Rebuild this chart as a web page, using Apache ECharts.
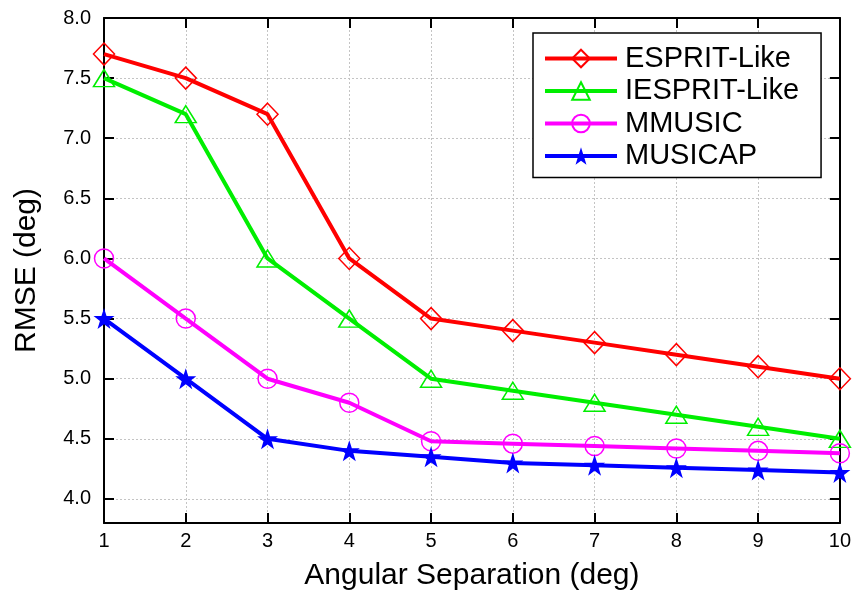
<!DOCTYPE html>
<html lang="en">
<head>
    <meta charset="UTF-8">
    <title>RMSE vs Angular Separation</title>
    <style>
        html, body { margin: 0; padding: 0; background: #fff; }
    </style>
</head>
<body>
<div id="chart" style="width:854px;height:601px;"></div>
<script src="https://cdn.jsdelivr.net/npm/echarts@6/dist/echarts.min.js"></script>
<script>
    // data
    var separation = [1, 2, 3, 4, 5, 6, 7, 8, 9, 10];
    var espritLike = [7.7, 7.5, 7.2, 6.0, 5.5, 5.4, 5.3, 5.2, 5.1, 5.0];
    var iespritLike = [7.5, 7.2, 6.0, 5.5, 5.0, 4.9, 4.8, 4.7, 4.6, 4.5];
    var mmusic = [6.0, 5.5, 5.0, 4.8, 4.48, 4.46, 4.44, 4.42, 4.40, 4.38];
    var musicap = [5.5, 5.0, 4.5, 4.4, 4.35, 4.30, 4.28, 4.26, 4.24, 4.22];
    var yTicks = [4.0, 4.5, 5.0, 5.5, 6.0, 6.5, 7.0, 7.5, 8.0];

    var FONT = "'Liberation Sans', Arial, sans-serif";
    var STAR = 'path://M50,0 L61.8,35.1 L98.9,35.1 L68.9,56.9 L80.3,92.1 L50,70.4 L19.7,92.1 L31.1,56.9 L1.1,35.1 L38.2,35.1 Z';

    function pairs(ys) {
        return separation.map(function (x, i) { return [x, ys[i]]; });
    }

    function makeSeries(name, ys, color, symbol, size, filled) {
        return {
            name: name,
            type: 'line',
            data: pairs(ys),
            symbol: symbol,
            symbolSize: size,
            showAllSymbol: true,
            clip: false,
            lineStyle: { color: color, width: 4 },
            itemStyle: filled
                ? { color: color, borderWidth: 0 }
                : { color: 'rgba(255,255,255,0)', borderColor: color, borderWidth: 1.5 },
            emphasis: { disabled: true }
        };
    }

    var chart = echarts.init(document.getElementById('chart'));

    var boxAxis = {
        show: true,
        lineStyle: { color: '#000', width: 2 }
    };
    var boxTick = {
        show: true,
        inside: true,
        length: 10,
        lineStyle: { color: '#000', width: 2 }
    };

    var option = {
        animation: false,
        backgroundColor: '#fff',
        textStyle: { fontFamily: FONT },
        grid: { left: 104, right: 14, top: 18, bottom: 78 },
        legend: {
            orient: 'vertical',
            left: 533,
            top: 33,
            padding: [11, 22, 7, 10],
            itemGap: 3.5,
            itemWidth: 72,
            itemHeight: 22,
            borderColor: '#000',
            borderWidth: 1.5,
            backgroundColor: '#fff',
            lineStyle: { width: 4 },
            textStyle: { fontFamily: FONT, fontSize: 29, color: '#000', lineHeight: 28, padding: [0, 0, 0, 3] },
            data: ['ESPRIT-Like', 'IESPRIT-Like', 'MMUSIC', 'MUSICAP']
        },
        xAxis: [
            {
                type: 'value',
                position: 'bottom',
                min: 1,
                max: 10,
                interval: 1,
                name: 'Angular Separation (deg)',
                nameLocation: 'middle',
                nameGap: 38,
                nameTextStyle: { fontFamily: FONT, fontSize: 30, color: '#000' },
                axisLine: boxAxis,
                axisTick: boxTick,
                axisLabel: { fontFamily: FONT, fontSize: 20, color: '#000', margin: 8 },
                splitLine: { show: true, lineStyle: { color: '#c4c4c4', width: 1, type: [2, 2] } }
            },
            {
                type: 'value',
                position: 'top',
                min: 1,
                max: 10,
                interval: 1,
                axisLine: boxAxis,
                axisTick: boxTick,
                axisLabel: { show: false },
                splitLine: { show: false }
            }
        ],
        yAxis: [
            {
                type: 'value',
                position: 'left',
                min: 3.8,
                max: 8.0,
                name: 'RMSE (deg)',
                nameLocation: 'middle',
                nameGap: 62,
                nameTextStyle: { fontFamily: FONT, fontSize: 30, color: '#000' },
                axisLine: boxAxis,
                axisTick: { show: true, inside: true, length: 10, lineStyle: { color: '#000', width: 2 }, customValues: yTicks },
                axisLabel: {
                    fontFamily: FONT, fontSize: 20, color: '#000', margin: 13,
                    customValues: yTicks,
                    formatter: function (v) { return v.toFixed(1); }
                },
                splitLine: { show: true, lineStyle: { color: '#c4c4c4', width: 1, type: [2, 2] } }
            },
            {
                type: 'value',
                position: 'right',
                min: 3.8,
                max: 8.0,
                axisLine: boxAxis,
                axisTick: { show: true, inside: true, length: 10, lineStyle: { color: '#000', width: 2 }, customValues: yTicks },
                axisLabel: { show: false, customValues: yTicks },
                splitLine: { show: false }
            }
        ],
        series: [
            makeSeries('ESPRIT-Like', espritLike, '#ff0000', 'diamond', [21, 22], false),
            makeSeries('IESPRIT-Like', iespritLike, '#00ee00', 'triangle', [21, 17], false),
            makeSeries('MMUSIC', mmusic, '#ff00ff', 'circle', 19, false),
            makeSeries('MUSICAP', musicap, '#0000ff', STAR, 21, true)
        ]
    };

    chart.setOption(option);
</script>
</body>
</html>
